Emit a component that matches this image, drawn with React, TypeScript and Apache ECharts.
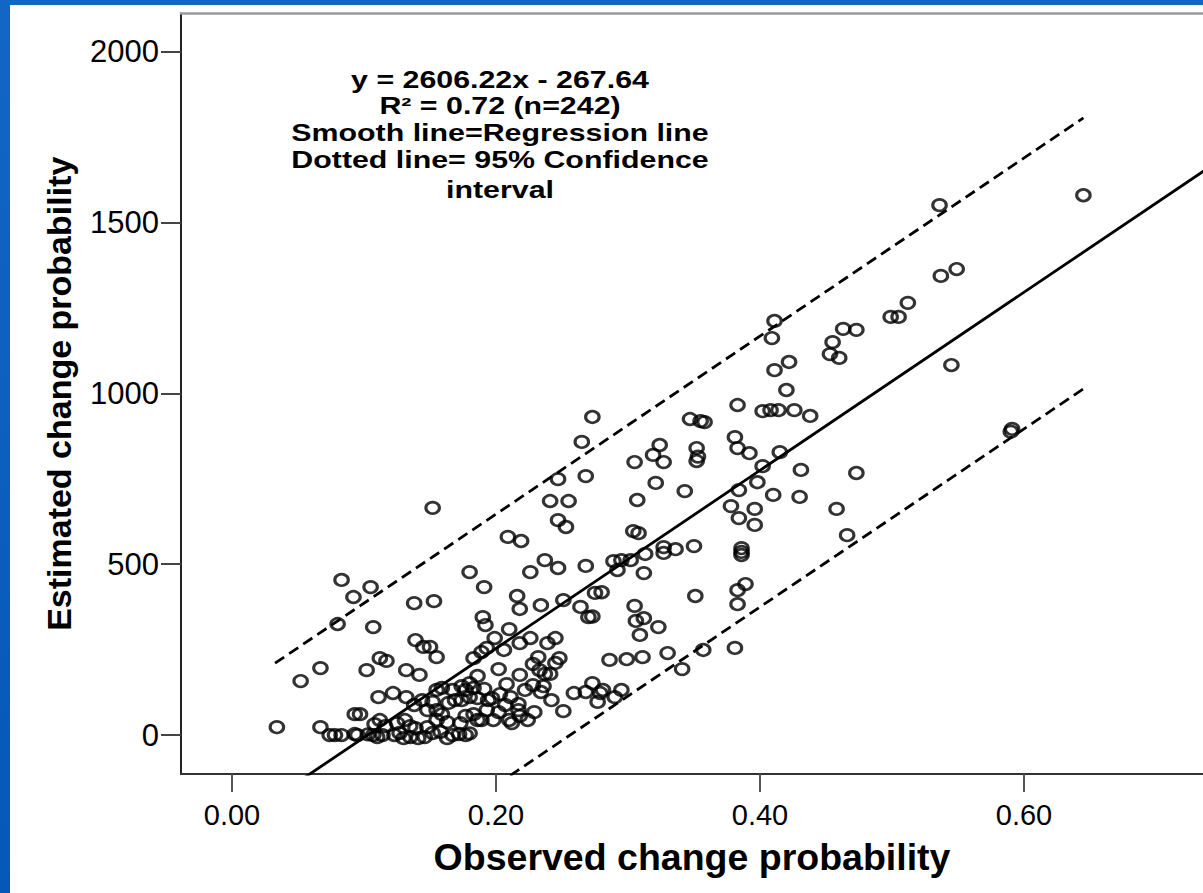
import React, { useEffect, useRef } from "react";
import * as echarts from "echarts";

// Observed (x) and estimated (y) change probability
const obsX = [
  0.645, 0.536, 0.537, 0.549, 0.545, 0.591, 0.590, 0.499, 0.505, 0.512,
  0.473, 0.463, 0.455, 0.453, 0.460, 0.411, 0.409, 0.422, 0.420, 0.411,
  0.402, 0.408, 0.414, 0.426, 0.438, 0.383, 0.415, 0.381, 0.383, 0.392,
  0.402, 0.398, 0.384, 0.431, 0.410, 0.430, 0.473, 0.458, 0.466, 0.396,
  0.396, 0.378, 0.384, 0.386, 0.386, 0.386, 0.389, 0.383, 0.383, 0.381,
  0.347, 0.355, 0.358, 0.352, 0.352, 0.353, 0.324, 0.319, 0.327, 0.305,
  0.321, 0.343, 0.307, 0.304, 0.308, 0.327, 0.327, 0.313, 0.336, 0.350,
  0.289, 0.295, 0.302, 0.312, 0.292, 0.305, 0.312, 0.306, 0.323, 0.309,
  0.351, 0.357, 0.330, 0.341, 0.286, 0.299, 0.311, 0.281, 0.290, 0.295,
  0.277, 0.268, 0.273, 0.265, 0.268, 0.247, 0.255, 0.241, 0.247, 0.253,
  0.219, 0.209, 0.237, 0.247, 0.226, 0.268, 0.180, 0.152, 0.216, 0.218,
  0.234, 0.251, 0.264, 0.270, 0.273, 0.275, 0.280, 0.191, 0.190, 0.192,
  0.199, 0.193, 0.206, 0.218, 0.210, 0.226, 0.239, 0.245, 0.248, 0.232,
  0.228, 0.233, 0.237, 0.228, 0.236, 0.234, 0.251, 0.224, 0.210, 0.211,
  0.217, 0.217, 0.208, 0.202, 0.203, 0.197, 0.194, 0.218, 0.222, 0.138,
  0.153, 0.139, 0.145, 0.150, 0.132, 0.142, 0.155, 0.183, 0.189, 0.180,
  0.174, 0.177, 0.183, 0.186, 0.191, 0.167, 0.169, 0.164, 0.174, 0.180,
  0.186, 0.193, 0.183, 0.177, 0.186, 0.189, 0.173, 0.163, 0.159, 0.155,
  0.155, 0.148, 0.152, 0.158, 0.167, 0.172, 0.177, 0.180, 0.163, 0.146,
  0.141, 0.135, 0.130, 0.125, 0.123, 0.114, 0.110, 0.107, 0.103, 0.095,
  0.093, 0.083, 0.074, 0.078, 0.067, 0.034, 0.116, 0.112, 0.108, 0.097,
  0.093, 0.111, 0.102, 0.112, 0.117, 0.107, 0.080, 0.067, 0.052, 0.083,
  0.092, 0.105, 0.122, 0.132, 0.138, 0.144, 0.148, 0.152, 0.155, 0.159,
  0.131, 0.135, 0.139, 0.127, 0.198, 0.202, 0.207, 0.212, 0.218, 0.229,
  0.242, 0.241, 0.245, 0.259, 0.273, 0.279,
];
const estY = [
  1580, 1551, 1344, 1364, 1083, 896, 888, 1224, 1224, 1265,
  1186, 1189, 1150, 1115, 1104, 1212, 1162, 1092, 1010, 1068,
  948, 951, 951, 951, 934, 966, 828, 872, 840, 825,
  787, 740, 717, 776, 703, 697, 767, 662, 585, 662,
  615, 670, 635, 547, 536, 527, 442, 424, 383, 255,
  925, 919, 916, 840, 802, 815, 849, 820, 799, 799,
  738, 714, 688, 597, 591, 550, 533, 530, 544, 553,
  509, 512, 512, 474, 483, 378, 342, 334, 316, 293,
  407, 249, 240, 193, 220, 222, 228, 132, 111, 132,
  97, 126, 931, 858, 758, 749, 685, 685, 629, 609,
  568, 580, 512, 489, 477, 495, 477, 665, 407, 369,
  380, 395, 375, 345, 347, 416, 418, 433, 345, 322,
  284, 255, 249, 269, 310, 284, 269, 284, 225, 228,
  208, 190, 179, 146, 143, 126, 70, 44, 44, 111,
  91, 73, 149, 193, 120, 108, 102, 176, 132, 386,
  392, 278, 258, 258, 190, 176, 228, 225, 243, 152,
  143, 132, 138, 173, 135, 132, 102, 94, 102, 111,
  108, 73, 61, 56, 44, 44, 35, 38, 61, 73,
  44, 23, 6, 9, 0, 3, 0, 5, -9, -6,
  -9, -6, -9, 35, 0, 0, -6, 0, 2, 0,
  3, 0, 0, 0, 23, 23, 26, 44, 32, 61,
  61, 111, 190, 225, 217, 316, 325, 196, 158, 454,
  404, 433, 123, 111, 88, 102, 73, 97, 132, 138,
  44, 26, 20, 6, 44, 67, 88, 35, 56, 67,
  102, 179, 211, 123, 152, 123,
];

// Axis ticks
const xTickValues = [0, 0.2, 0.4, 0.6];
const yTickValues = [0, 500, 1000, 1500, 2000];

// Regression line y = 2606.22x - 267.64 and its 95% band
const slope = 2606.22;
const intercept = -267.64;
const regressionX = [0.05, 0.76];
const upperBandX = [0.0326, 0.645];
const upperOffset = 393;
const lowerBandX = [0.2, 0.646];
const lowerOffset = -400;

const annotationLines = [
  "y = 2606.22x - 267.64",
  "R\u00B2 = 0.72 (n=242)",
  "Smooth line=Regression line",
  "Dotted line= 95% Confidence",
  "interval",
];

const FONT = '"Liberation Sans", Arial, Helvetica, sans-serif';

export default function App() {
  const ref = useRef<HTMLDivElement>(null);

  useEffect(() => {
    if (!ref.current) return;
    const chart = echarts.init(ref.current, undefined, { renderer: "svg" });

    const points = obsX.map((x, i) => [x, estY[i]]);
    const line = (xs: number[], off: number) =>
      xs.map((x) => [x, slope * x + intercept + off]);

    const annotY = [80, 106, 133, 160, 190];

    chart.setOption({
      animation: false,
      backgroundColor: "transparent",
      grid: { left: 181, right: 0, top: 13.5, bottom: 119, containLabel: false },
      xAxis: [
        {
          type: "value",
          min: -0.03864,
          max: 0.7356,
          axisLine: { show: true, onZero: false, lineStyle: { color: "#333", width: 2 } },
          axisTick: {
            show: true,
            customValues: xTickValues,
            length: 18,
            lineStyle: { color: "#555", width: 2 },
          },
          axisLabel: {
            customValues: xTickValues,
            formatter: (v: number) => v.toFixed(2),
            fontSize: 29,
            fontFamily: FONT,
            color: "#000",
            margin: 26,
          },
          splitLine: { show: false },
          name: "Observed change probability",
          nameLocation: "middle",
          nameGap: 64,
          nameTextStyle: {
            fontSize: 37.5,
            fontWeight: "bold",
            fontFamily: FONT,
            color: "#000",
          },
        },
        {
          type: "value",
          position: "top",
          min: -0.03864,
          max: 0.7356,
          axisLine: { show: true, onZero: false, lineStyle: { color: "#999", width: 2.5 } },
          axisTick: { show: false },
          axisLabel: { show: false },
          splitLine: { show: false },
        },
      ],
      yAxis: {
        type: "value",
        min: -114,
        max: 2112,
        axisLine: { show: true, onZero: false, lineStyle: { color: "#222", width: 2 } },
        axisTick: {
          show: true,
          customValues: yTickValues,
          length: 20,
          lineStyle: { color: "#444", width: 2 },
        },
        axisLabel: {
          customValues: yTickValues,
          formatter: (v: number) => String(v),
          fontSize: 31,
          fontFamily: FONT,
          color: "#000",
          margin: 22,
        },
        splitLine: { show: false },
        name: "Estimated change probability",
        nameLocation: "middle",
        nameGap: 105,
        nameRotate: 90,
        nameTextStyle: {
          fontSize: 34,
          fontWeight: "bold",
          fontFamily: FONT,
          color: "#000",
        },
      },
      series: [
        {
          type: "scatter",
          data: points,
          symbol: "circle",
          symbolSize: [13.5, 11.5],
          itemStyle: { color: "rgba(255,255,255,0)", borderColor: "#000", borderWidth: 2.9 },
          z: 2,
        },
        {
          type: "line",
          data: line(regressionX, 0),
          showSymbol: false,
          symbol: "none",
          clip: true,
          lineStyle: { color: "#000", width: 2.8 },
          z: 3,
        },
        {
          type: "line",
          data: line(upperBandX, upperOffset),
          showSymbol: false,
          symbol: "none",
          clip: true,
          lineStyle: { color: "#000", width: 2.8, type: [11, 6] },
          z: 3,
        },
        {
          type: "line",
          data: line(lowerBandX, lowerOffset),
          showSymbol: false,
          symbol: "none",
          clip: true,
          lineStyle: { color: "#000", width: 2.8, type: [11, 6] },
          z: 3,
        },
      ],
      graphic: annotationLines.map((t, i) => ({
        type: "text",
        x: 500,
        y: annotY[i],
        scaleX: 1.32,
        z: 10,
        style: {
          text: t,
          font: `bold 23px ${FONT}`,
          fill: "#000",
          textAlign: "center",
          textVerticalAlign: "middle",
          align: "center",
          verticalAlign: "middle",
        },
      })),
    });

    return () => chart.dispose();
  }, []);

  return (
    <div
      style={{
        position: "fixed",
        left: 0,
        top: 0,
        width: 1203,
        height: 893,
        background: "linear-gradient(180deg, #1466c4 0%, #0558b8 100%)",
        overflow: "hidden",
      }}
    >
      <div
        style={{
          position: "absolute",
          left: 10,
          top: 5,
          right: 0,
          bottom: 0,
          background: "#fff",
        }}
      />
      <div ref={ref} style={{ position: "absolute", left: 0, top: 0, width: 1203, height: 893 }} />
    </div>
  );
}
